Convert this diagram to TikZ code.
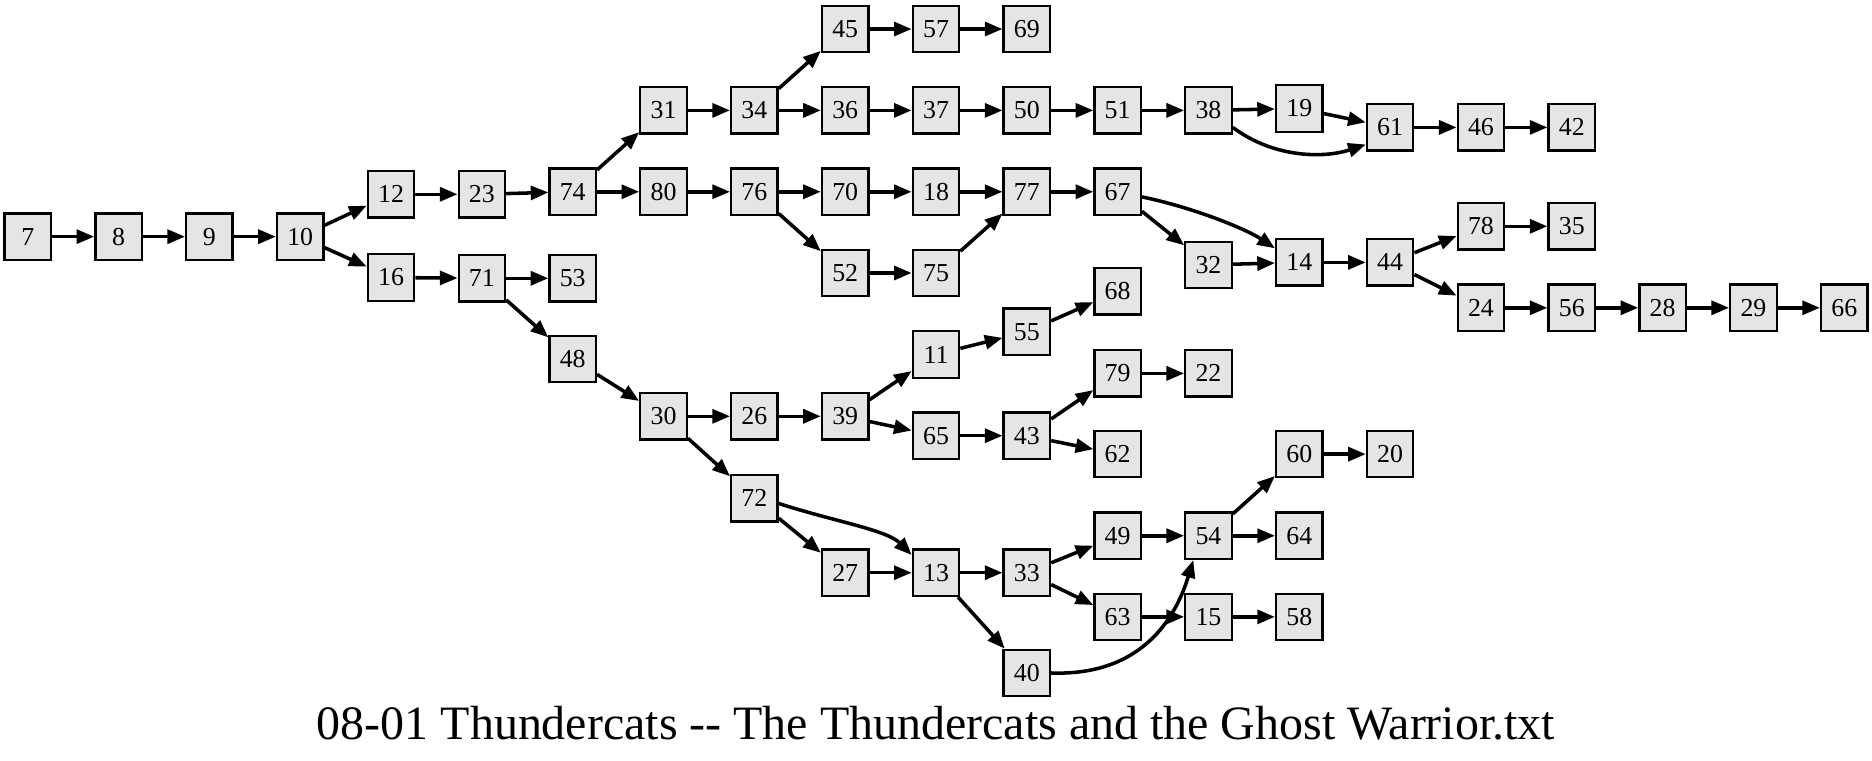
\documentclass[tikz,border=0pt]{standalone}
\usepackage{fontspec}
\setmainfont{Liberation Serif}
\usetikzlibrary{arrows.meta}
\begin{document}
\begin{tikzpicture}[x=1pt,y=1pt,
  nd/.style={draw, line width=1.8pt, fill=gray!20, minimum width=36.8pt, minimum height=36.8pt, inner sep=0pt, font=\fontsize{20.5}{24}\selectfont},
  e/.style={line width=2.8pt, -{Triangle[length=14pt,width=11pt]}}]
\useasboundingbox (0,0) rectangle (1484,-603.2);
% column 0-6
\node[nd] (n7) at (22,-187.6) {7};
\node[nd] (n8) at (94,-187.6) {8};
\node[nd] (n9) at (166,-187.6) {9};
\node[nd] (n10) at (238,-187.6) {10};
\node[nd] (n12) at (310,-154) {12};
\node[nd] (n16) at (310,-220) {16};
\node[nd] (n23) at (382,-154) {23};
\node[nd] (n71) at (382,-220.6) {71};
\node[nd] (n74) at (454,-152) {74};
\node[nd] (n53) at (454,-220.6) {53};
\node[nd] (n48) at (454,-284.6) {48};
% column 7
\node[nd] (n31) at (526,-87.5) {31};
\node[nd] (n80) at (526,-152) {80};
\node[nd] (n30) at (526,-330) {30};
% column 8
\node[nd] (n34) at (598,-87.5) {34};
\node[nd] (n76) at (598,-152) {76};
\node[nd] (n26) at (598,-330) {26};
\node[nd] (n72) at (598,-395) {72};
% column 9
\node[nd] (n45) at (670,-23) {45};
\node[nd] (n36) at (670,-87.5) {36};
\node[nd] (n70) at (670,-152) {70};
\node[nd] (n52) at (670,-216.4) {52};
\node[nd] (n39) at (670,-330) {39};
\node[nd] (n27) at (670,-454) {27};
% column 10
\node[nd] (n57) at (742,-23) {57};
\node[nd] (n37) at (742,-87.5) {37};
\node[nd] (n18) at (742,-152) {18};
\node[nd] (n75) at (742,-216.4) {75};
\node[nd] (n11) at (742,-281) {11};
\node[nd] (n65) at (742,-345.4) {65};
\node[nd] (n13) at (742,-454) {13};
% column 11
\node[nd] (n69) at (814,-23) {69};
\node[nd] (n50) at (814,-87.5) {50};
\node[nd] (n77) at (814,-152) {77};
\node[nd] (n55) at (814,-263) {55};
\node[nd] (n43) at (814,-345.4) {43};
\node[nd] (n33) at (814,-454) {33};
\node[nd] (n40) at (814,-533.5) {40};
% column 12
\node[nd] (n51) at (886,-87.5) {51};
\node[nd] (n67) at (886,-152) {67};
\node[nd] (n68) at (886,-231) {68};
\node[nd] (n79) at (886,-296) {79};
\node[nd] (n62) at (886,-360) {62};
\node[nd] (n49) at (886,-424.7) {49};
\node[nd] (n63) at (886,-489) {63};
% column 13
\node[nd] (n38) at (958,-87.5) {38};
\node[nd] (n32) at (958,-210) {32};
\node[nd] (n22) at (958,-296) {22};
\node[nd] (n54) at (958,-424.7) {54};
\node[nd] (n15) at (958,-489) {15};
% column 14
\node[nd] (n19) at (1030,-86) {19};
\node[nd] (n14) at (1030,-208) {14};
\node[nd] (n60) at (1030,-360) {60};
\node[nd] (n64) at (1030,-424.7) {64};
\node[nd] (n58) at (1030,-489) {58};
% column 15
\node[nd] (n61) at (1102,-101) {61};
\node[nd] (n44) at (1102,-208) {44};
\node[nd] (n20) at (1102,-360) {20};
% column 16-20
\node[nd] (n46) at (1174,-101) {46};
\node[nd] (n78) at (1174,-179.4) {78};
\node[nd] (n24) at (1174,-244) {24};
\node[nd] (n42) at (1246,-101) {42};
\node[nd] (n35) at (1246,-179.4) {35};
\node[nd] (n56) at (1246,-244) {56};
\node[nd] (n28) at (1318,-244) {28};
\node[nd] (n29) at (1390,-244) {29};
\node[nd] (n66) at (1462,-244) {66};
% title
\node[anchor=base, font=\fontsize{38}{44}\selectfont] (title) at (742,-586) {08-01 Thundercats -{}- The Thundercats and the Ghost Warrior.txt};
% edges
\draw[e] (n7) -- (n8);
\draw[e] (n8) -- (n9);
\draw[e] (n9) -- (n10);
\draw[e] (n10) -- (n12);
\draw[e] (n10) -- (n16);
\draw[e] (n12) -- (n23);
\draw[e] (n23) -- (n74);
\draw[e] (n74) -- (n31);
\draw[e] (n74) -- (n80);
\draw[e] (n31) -- (n34);
\draw[e] (n34) -- (n45);
\draw[e] (n34) -- (n36);
\draw[e] (n45) -- (n57);
\draw[e] (n57) -- (n69);
\draw[e] (n36) -- (n37);
\draw[e] (n37) -- (n50);
\draw[e] (n50) -- (n51);
\draw[e] (n51) -- (n38);
\draw[e] (n38) -- (n19);
\draw[e] (n38.-35) .. controls (1010,-125.5) and (1050,-125.5) .. (n61.-145);
\draw[e] (n19) -- (n61);
\draw[e] (n61) -- (n46);
\draw[e] (n46) -- (n42);
\draw[e] (n80) -- (n76);
\draw[e] (n76) -- (n70);
\draw[e] (n76) -- (n52);
\draw[e] (n70) -- (n18);
\draw[e] (n18) -- (n77);
\draw[e] (n52) -- (n75);
\draw[e] (n75) -- (n77);
\draw[e] (n77) -- (n67);
\draw[e] (n67.-12) .. controls (944,-164) and (987,-181) .. (n14.150);
\draw[e] (n67) -- (n32);
\draw[e] (n32) -- (n14);
\draw[e] (n14) -- (n44);
\draw[e] (n44) -- (n78);
\draw[e] (n44) -- (n24);
\draw[e] (n78) -- (n35);
\draw[e] (n24) -- (n56);
\draw[e] (n56) -- (n28);
\draw[e] (n28) -- (n29);
\draw[e] (n29) -- (n66);
\draw[e] (n16) -- (n71);
\draw[e] (n71) -- (n53);
\draw[e] (n71) -- (n48);
\draw[e] (n48) -- (n30);
\draw[e] (n30) -- (n26);
\draw[e] (n30) -- (n72);
\draw[e] (n26) -- (n39);
\draw[e] (n39) -- (n11);
\draw[e] (n39) -- (n65);
\draw[e] (n11) -- (n55);
\draw[e] (n55) -- (n68);
\draw[e] (n65) -- (n43);
\draw[e] (n43) -- (n79);
\draw[e] (n43) -- (n62);
\draw[e] (n79) -- (n22);
\draw[e] (n72.-12) .. controls (660,-413) and (703,-420) .. (n13.144);
\draw[e] (n72) -- (n27);
\draw[e] (n27) -- (n13);
\draw[e] (n13) -- (n33);
\draw[e] (n13) -- (n40);
\draw[e] (n33) -- (n49);
\draw[e] (n33) -- (n63);
\draw[e] (n49) -- (n54);
\draw[e] (n54) -- (n60);
\draw[e] (n54) -- (n64);
\draw[e] (n60) -- (n20);
\draw[e] (n63) -- (n15);
\draw[e] (n15) -- (n58);
\draw[e] (n40.east) .. controls (905,-536) and (932,-490) .. (n54.-122);
\end{tikzpicture}
\end{document}
